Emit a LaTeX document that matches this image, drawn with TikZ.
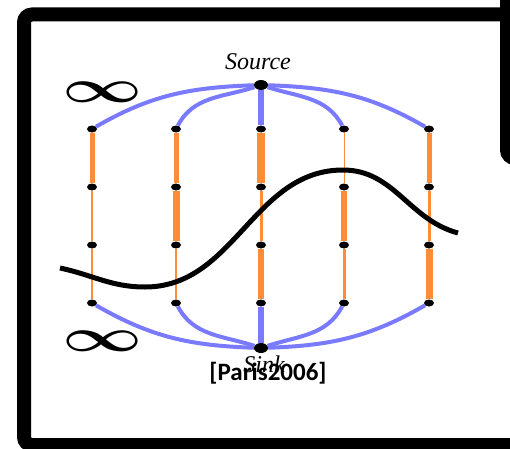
\documentclass[tikz,border=0pt]{standalone}
\usepackage{amsmath,amssymb}
\usepackage{fontspec}
\setmainfont{Liberation Serif}
\newfontfamily\citefont{Carlito}
\usepackage{xcolor}
\usetikzlibrary{positioning,shapes.geometric,backgrounds}
\definecolor{cutorange}{RGB}{255,140,56}
\definecolor{termblue}{RGB}{122,122,255}

\begin{document}
\begin{tikzpicture}[x=1pt,y=1pt,
  frame/.style={draw=black,line width=14pt,rounded corners=8pt},
  dot/.style={ellipse,fill=black,minimum width=10pt,minimum height=7pt,inner sep=0pt},
  term/.style={ellipse,fill=black,minimum width=14pt,minimum height=10pt,inner sep=0pt},
  lab/.style={inner sep=0pt,font=\fontsize{24}{24}\selectfont\itshape},
  inf/.style={inner sep=0pt,xscale=2.8,yscale=1.85,transform shape,font=\Huge\boldmath},
  tlink/.style={draw=termblue,line width=4pt},
  nlink/.style={draw=cutorange},
  cut/.style={draw=black,line width=5pt}]
  \useasboundingbox (0,0) rectangle (510,448);
  \clip (0,0) rectangle (510,448);
  % --- slide frames ---
  \draw[frame] (24,433.5) rectangle (560,3);
  \draw[frame,fill=white] (507,290) rectangle (600,500);
  % --- terminals ---
  \node[term] (src) at (261,363) {};
  \node[term] (snk) at (261,100) {};
  \node[lab] (srclab) at (258,386) {Source};
  \node[lab] (snklab) at (264,84) {Sink};
  % --- grid of pixels: column i, row j ---
  \foreach \i/\x in {1/92,2/176,3/261,4/344,5/429}{%
    \foreach \j/\y in {1/319,2/261,3/203,4/145}{%
      \node[dot] (v\i\j) at (\x,\y) {};}}
  % --- n-links, width = edge weight ---
  \begin{scope}[on background layer]
    \foreach \i/\a/\b/\c in {1/5/1.5/1.5,2/5/7/1.5,3/8/3/6,4/1/6/3,5/5/3/7}{%
      \draw[nlink,line width=\a pt] (v\i1) -- (v\i2);
      \draw[nlink,line width=\b pt] (v\i2) -- (v\i3);
      \draw[nlink,line width=\c pt] (v\i3) -- (v\i4);}
    % --- t-links ---
    \draw[tlink] (src) to[out=182,in=30] (v11);
    \draw[tlink] (src) to[out=198,in=62] (v21);
    \draw[tlink,line width=6pt] (src) -- (v31);
    \draw[tlink] (src) to[out=-18,in=118] (v41);
    \draw[tlink] (src) to[out=-2,in=150] (v51);
    \draw[tlink] (snk) to[out=178,in=-30] (v14);
    \draw[tlink] (snk) to[out=162,in=-62] (v24);
    \draw[tlink,line width=6pt] (snk) -- (v34);
    \draw[tlink] (snk) to[out=18,in=-118] (v44);
    \draw[tlink] (snk) to[out=2,in=-150] (v54);
  \end{scope}
  % --- infinite weights ---
  \node[inf] (inftop) at (103,356) {$\infty$};
  \node[inf] (infbot) at (103,107) {$\infty$};
  % --- the cut ---
  \coordinate (cutl) at (60,180);
  \coordinate (cutmin) at (145,161);
  \coordinate (cutmax) at (343,278);
  \coordinate (cutr) at (458,215);
  \draw[cut] (cutl) to[out=-12,in=180] (cutmin) to[out=0,in=180] (cutmax)
    to[out=0,in=165] (cutr);
  \node[inner sep=0pt,font=\citefont\bfseries\fontsize{25}{25}\selectfont] (cite) at (268,75) {[Paris2006]};
\end{tikzpicture}
\end{document}
